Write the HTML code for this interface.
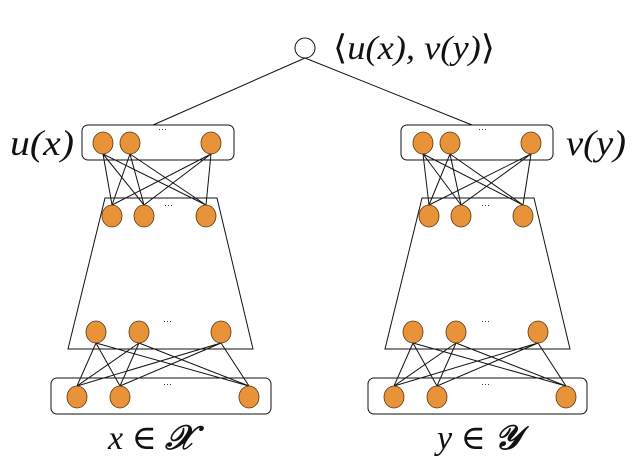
<!DOCTYPE html>
<html><head><meta charset="utf-8"><style>
html,body{margin:0;padding:0;background:#fff;}
svg{display:block}
</style></head><body>
<svg width="636" height="472" viewBox="0 0 636 472" xmlns="http://www.w3.org/2000/svg">
<g stroke="#111" stroke-width="1" fill="none">
<circle cx="305" cy="48" r="10"/>
<line x1="305" y1="58" x2="153" y2="125"/>
<line x1="305" y1="58" x2="472" y2="125"/>
<rect x="82" y="125" width="152" height="35" rx="6"/>
<rect x="401" y="125" width="152" height="35" rx="6"/>
<polygon points="105,198 217,198 253,349 68,349"/>
<polygon points="422,198 534,198 570,349 385,349"/>
<rect x="51" y="378" width="220" height="36" rx="6"/>
<rect x="368" y="378" width="219" height="36" rx="6"/>
<line x1="103" y1="154" x2="112" y2="205"/><line x1="103" y1="154" x2="144" y2="205"/><line x1="103" y1="154" x2="206" y2="205"/>
<line x1="130" y1="154" x2="112" y2="205"/><line x1="130" y1="154" x2="144" y2="205"/><line x1="130" y1="154" x2="206" y2="205"/>
<line x1="211" y1="154" x2="112" y2="205"/><line x1="211" y1="154" x2="144" y2="205"/><line x1="211" y1="154" x2="206" y2="205"/>
<line x1="423" y1="154" x2="429" y2="205"/><line x1="423" y1="154" x2="461" y2="205"/><line x1="423" y1="154" x2="523" y2="205"/>
<line x1="450" y1="154" x2="429" y2="205"/><line x1="450" y1="154" x2="461" y2="205"/><line x1="450" y1="154" x2="523" y2="205"/>
<line x1="531" y1="154" x2="429" y2="205"/><line x1="531" y1="154" x2="461" y2="205"/><line x1="531" y1="154" x2="523" y2="205"/>
<line x1="96" y1="343" x2="77" y2="386"/><line x1="96" y1="343" x2="120" y2="386"/><line x1="96" y1="343" x2="249" y2="386"/>
<line x1="139" y1="343" x2="77" y2="386"/><line x1="139" y1="343" x2="120" y2="386"/><line x1="139" y1="343" x2="249" y2="386"/>
<line x1="221" y1="343" x2="77" y2="386"/><line x1="221" y1="343" x2="120" y2="386"/><line x1="221" y1="343" x2="249" y2="386"/>
<line x1="413" y1="343" x2="394" y2="386"/><line x1="413" y1="343" x2="437" y2="386"/><line x1="413" y1="343" x2="566" y2="386"/>
<line x1="456" y1="343" x2="394" y2="386"/><line x1="456" y1="343" x2="437" y2="386"/><line x1="456" y1="343" x2="566" y2="386"/>
<line x1="538" y1="343" x2="394" y2="386"/><line x1="538" y1="343" x2="437" y2="386"/><line x1="538" y1="343" x2="566" y2="386"/>
</g>
<g fill="#e8933a" stroke="#5a3a10" stroke-width="0.8">
<ellipse cx="103" cy="143" rx="10" ry="11"/><ellipse cx="130" cy="143" rx="10" ry="11"/><ellipse cx="211" cy="143" rx="10" ry="11"/>
<ellipse cx="423" cy="143" rx="10" ry="11"/><ellipse cx="450" cy="143" rx="10" ry="11"/><ellipse cx="531" cy="143" rx="10" ry="11"/>
<ellipse cx="112" cy="216" rx="10" ry="11"/><ellipse cx="144" cy="216" rx="10" ry="11"/><ellipse cx="206" cy="216" rx="10" ry="11"/>
<ellipse cx="429" cy="216" rx="10" ry="11"/><ellipse cx="461" cy="216" rx="10" ry="11"/><ellipse cx="523" cy="216" rx="10" ry="11"/>
<ellipse cx="96" cy="332" rx="10" ry="11"/><ellipse cx="139" cy="332" rx="10" ry="11"/><ellipse cx="221" cy="332" rx="10" ry="11"/>
<ellipse cx="413" cy="332" rx="10" ry="11"/><ellipse cx="456" cy="332" rx="10" ry="11"/><ellipse cx="538" cy="332" rx="10" ry="11"/>
<ellipse cx="77" cy="397" rx="10" ry="11"/><ellipse cx="120" cy="397" rx="10" ry="11"/><ellipse cx="249" cy="397" rx="10" ry="11"/>
<ellipse cx="394" cy="397" rx="10" ry="11"/><ellipse cx="437" cy="397" rx="10" ry="11"/><ellipse cx="566" cy="397" rx="10" ry="11"/>
</g>
<g font-size="9" font-family="Liberation Sans, sans-serif" fill="#111">
<text x="158" y="132">···</text><text x="478" y="132">···</text>
<text x="164" y="208">···</text><text x="481" y="208">···</text>
<text x="163" y="324">···</text><text x="481" y="324">···</text>
<text x="163" y="387">···</text><text x="481" y="387">···</text>
</g>
<g font-family="Liberation Serif, DejaVu Serif, serif" font-style="italic" fill="#111">
<text x="10" y="155" font-size="36" textLength="64" lengthAdjust="spacingAndGlyphs">u(x)</text>
<text x="566" y="155" font-size="36" textLength="60" lengthAdjust="spacingAndGlyphs">v(y)</text>
<text x="333" y="59" font-size="34" textLength="162" lengthAdjust="spacingAndGlyphs"><tspan font-style="normal">⟨</tspan>u(x), v(y)<tspan font-style="normal">⟩</tspan></text>
<text x="108" y="449" font-size="34">x <tspan font-style="normal">∈</tspan> <tspan font-weight="bold">𝒳</tspan></text>
<text x="437" y="449" font-size="34">y <tspan font-style="normal">∈</tspan> <tspan font-weight="bold">𝒴</tspan></text>
</g>
</svg>
</body></html>
